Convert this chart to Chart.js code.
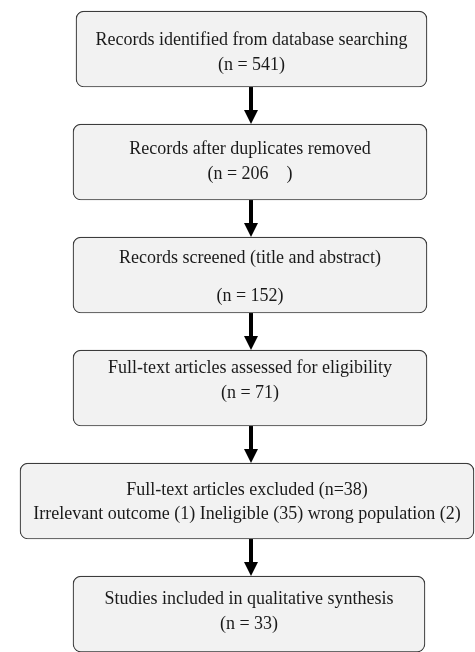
<!DOCTYPE html>
<html>
<head>
<meta charset="utf-8">
<script src="https://cdn.jsdelivr.net/npm/chart.js@4"></script>
<style>
    html, body { margin: 0; padding: 0; background: #fff; }
    #wrap { width: 475px; height: 652px; }
</style>
</head>
<body>
<div id="wrap"><canvas id="flowChart" width="475" height="652"></canvas></div>
<script>
// 1. The data
const stages = [
    'Records identified from database searching',
    'Records after duplicates removed',
    'Records screened (title and abstract)',
    'Full-text articles assessed for eligibility',
    'Full-text articles excluded',
    'Studies included in qualitative synthesis'
];
const counts = [541, 206, 152, 71, 38, 33];
const exclusionReasons = ['Irrelevant outcome', 'Ineligible', 'wrong population'];
const exclusionCounts = [1, 35, 2];
const excludedStage = 4; // this box lists reasons instead of a count line

// 2. Layout (box spans in canvas px on the x scale, text offsets from box centre)
const boxSpans = [[76, 427], [73, 427], [73, 427], [73, 427], [20, 474], [73, 425]];
const line1Offset = [-9, -13, -17, -20, -11, -15];
const line2Offset = [16, 12, 21, 5, 13, 10];
const countPad = ['', '    ', '', '', '', ''];

function textLines(i) {
    if (i === excludedStage) {
        const reasons = exclusionReasons.map((r, k) => `${r} (${exclusionCounts[k]})`).join(' ');
        return [`${stages[i]} (n=${counts[i]})`, reasons];
    }
    return [stages[i], `(n = ${counts[i]}${countPad[i]})`];
}

// 3. Plugin that writes the labels and draws the arrows between boxes
const flowPlugin = {
    id: 'flow',
    afterDatasetsDraw(chart) {
        const ctx = chart.ctx;
        const bars = chart.getDatasetMeta(0).data;
        ctx.save();

        // arrows all sit on the main column's centre line
        const x = (bars[1].base + bars[1].x) / 2 + 1;
        ctx.fillStyle = '#000';
        ctx.strokeStyle = '#000';
        for (let i = 0; i < bars.length - 1; i++) {
            const a = bars[i], b = bars[i + 1];
            const y0 = a.y + a.height / 2;
            const y1 = b.y - b.height / 2;
            ctx.lineWidth = 4;
            ctx.beginPath();
            ctx.moveTo(x, y0);
            ctx.lineTo(x, y1 - 10);
            ctx.stroke();
            ctx.beginPath();
            ctx.moveTo(x - 7, y1 - 14);
            ctx.lineTo(x + 7, y1 - 14);
            ctx.lineTo(x, y1);
            ctx.closePath();
            ctx.fill();
        }

        // text
        ctx.fillStyle = '#1a1a1a';
        ctx.font = '18px "Liberation Serif", "Times New Roman", serif';
        ctx.textAlign = 'center';
        ctx.textBaseline = 'middle';
        bars.forEach((bar, i) => {
            const cx = (bar.base + bar.x) / 2;
            const [l1, l2] = textLines(i);
            ctx.fillText(l1, cx, bar.y + line1Offset[i]);
            ctx.fillText(l2, cx, bar.y + line2Offset[i]);
        });
        ctx.restore();
    }
};

// 4. The chart: each box is a floating horizontal bar on a linear stage axis
const ctx = document.getElementById('flowChart').getContext('2d');
new Chart(ctx, {
    type: 'bar',
    data: {
        datasets: [{
            data: stages.map((s, i) => ({ y: i, x: boxSpans[i] })),
            backgroundColor: '#f2f2f2',
            borderColor: '#3c3c3c',
            borderWidth: 1.2,
            borderRadius: 8,
            borderSkipped: false,
            barThickness: 76
        }]
    },
    options: {
        indexAxis: 'y',
        responsive: false,
        animation: false,
        layout: { padding: 0 },
        plugins: {
            legend: { display: false },
            tooltip: { enabled: false }
        },
        scales: {
            x: { type: 'linear', min: 0, max: 475, display: false },
            y: {
                type: 'linear', min: -0.434, max: 5.336, reverse: true,
                offset: false, grid: { offset: false }, display: false
            }
        }
    },
    plugins: [flowPlugin]
});
</script>
</body>
</html>
